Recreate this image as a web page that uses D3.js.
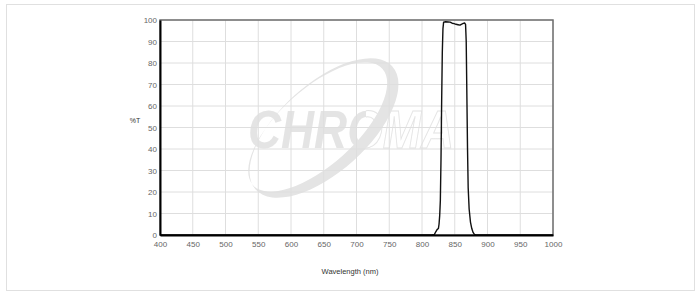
<!DOCTYPE html>
<html>
<head>
<meta charset="utf-8">
<script src="https://cdn.jsdelivr.net/npm/d3@7"></script>
<style>
    body { margin: 0; background: #fff; }
    text { font-family: "Liberation Sans", Arial, sans-serif; }
</style>
</head>
<body>
<svg id="chart" width="700" height="297"></svg>
<script>
// Transmission curve, wavelength (nm) / %T
const wavelengths = [400, 815, 819, 821, 823, 825, 826, 827, 828, 829, 830, 831, 832, 833,
    836, 840, 843, 846, 849, 852, 855, 858, 860, 863, 865, 866.5, 867.5, 868.5, 869.5,
    870.5, 872, 874, 876, 878, 880, 882, 1000];
const transmission = [0, 0, 0.3, 1.5, 2.5, 3, 5, 9, 16, 35, 62, 85, 96, 99,
    99.2, 99.1, 99, 98.5, 98.3, 98, 97.8, 97.6, 98, 98.4, 98.6, 98, 90, 65, 40,
    22, 12, 6, 3, 1.2, 0.3, 0, 0];
const xTicks = [400, 450, 500, 550, 600, 650, 700, 750, 800, 850, 900, 950, 1000];
const yTicks = [0, 10, 20, 30, 40, 50, 60, 70, 80, 90, 100];

const margin = {top: 20, right: 147, bottom: 62, left: 160};
const width = 700 - margin.left - margin.right;
const height = 297 - margin.top - margin.bottom;

const svg = d3.select("#chart");
const logoColor = "#e4e4e4";

// gradients: solid "CHRO", outlined "MA"
const defs = svg.append("defs");
const grad = (id, a, b) => {
    const lg = defs.append("linearGradient").attr("id", id)
        .attr("gradientUnits", "userSpaceOnUse")
        .attr("x1", 88).attr("x2", 294).attr("y1", 0).attr("y2", 0);
    lg.append("stop").attr("offset", 0.575).attr("stop-color", logoColor).attr("stop-opacity", a);
    lg.append("stop").attr("offset", 0.575).attr("stop-color", logoColor).attr("stop-opacity", b);
};
grad("logoFill", 1, 0);
grad("logoStroke", 0, 1);

// outer box
svg.append("rect")
    .attr("x", 6.5).attr("y", 4.5)
    .attr("width", 688).attr("height", 286)
    .attr("fill", "none")
    .attr("stroke", "#e0e0e0");

const g = svg.append("g")
    .attr("transform", "translate(" + margin.left + "," + margin.top + ")");

const x = d3.scaleLinear().domain([400, 1000]).range([0, width]);
const y = d3.scaleLinear().domain([0, 100]).range([height, 0]);

// watermark logo
const logo = g.append("g").attr("fill", logoColor);
const ell = (cx, cy, rx, ry) =>
    "M" + (cx - rx) + "," + cy + "a" + rx + "," + ry + " 0 1,0 " + (2 * rx) + ",0" +
    "a" + rx + "," + ry + " 0 1,0 " + (-2 * rx) + ",0Z";
logo.append("path")
    .attr("transform", "translate(164,108) rotate(-42)")
    .attr("fill-rule", "evenodd")
    .attr("d", ell(0, 0, 92, 44) + ell(-4, -5, 87, 38));
logo.append("text")
    .attr("x", 88).attr("y", 128)
    .attr("font-size", 54).attr("font-weight", "bold").attr("font-style", "italic")
    .attr("fill", "url(#logoFill)")
    .attr("stroke", "url(#logoStroke)").attr("stroke-width", 1)
    .attr("textLength", 206).attr("lengthAdjust", "spacingAndGlyphs")
    .text("CHROMA");

// grid
g.append("g")
    .selectAll("line.v")
    .data(xTicks)
    .enter().append("line")
    .attr("x1", d => x(d)).attr("x2", d => x(d))
    .attr("y1", 0).attr("y2", height)
    .attr("stroke", "#dedede");
g.append("g")
    .selectAll("line.h")
    .data(yTicks)
    .enter().append("line")
    .attr("x1", 0).attr("x2", width)
    .attr("y1", d => y(d)).attr("y2", d => y(d))
    .attr("stroke", "#dedede");

// frame (top/right)
g.append("rect")
    .attr("width", width).attr("height", height)
    .attr("fill", "none")
    .attr("stroke", "#6e6e6e")
    .attr("stroke-width", 1.5);

// curve
const data = wavelengths.map((w, i) => ({w: w, t: transmission[i]}));
g.append("path")
    .datum(data)
    .attr("fill", "none")
    .attr("stroke", "#111")
    .attr("stroke-width", 1.4)
    .attr("stroke-linejoin", "round")
    .attr("d", d3.line().x(d => x(d.w)).y(d => y(d.t)));

// axes
const xAxis = g.append("g")
    .attr("transform", "translate(0," + height + ")")
    .call(d3.axisBottom(x).tickValues(xTicks).tickSize(0).tickPadding(6).tickFormat(d3.format("d")));
const yAxis = g.append("g")
    .call(d3.axisLeft(y).tickValues(yTicks).tickSize(0).tickPadding(3).tickFormat(d3.format("d")));

[xAxis, yAxis].forEach(a => {
    a.select(".domain").attr("stroke", "#000").attr("stroke-width", 2);
    a.selectAll("text").attr("fill", "#666").attr("font-size", 8)
        .attr("font-family", "'Liberation Sans', Arial, sans-serif");
});

// labels
svg.append("text")
    .attr("x", 350).attr("y", 274)
    .attr("text-anchor", "middle")
    .attr("font-size", 7.5).attr("fill", "#333")
    .text("Wavelength (nm)");
svg.append("text")
    .attr("x", 135).attr("y", 123)
    .attr("text-anchor", "middle")
    .attr("font-size", 7).attr("fill", "#333")
    .text("%T");
</script>
</body>
</html>
